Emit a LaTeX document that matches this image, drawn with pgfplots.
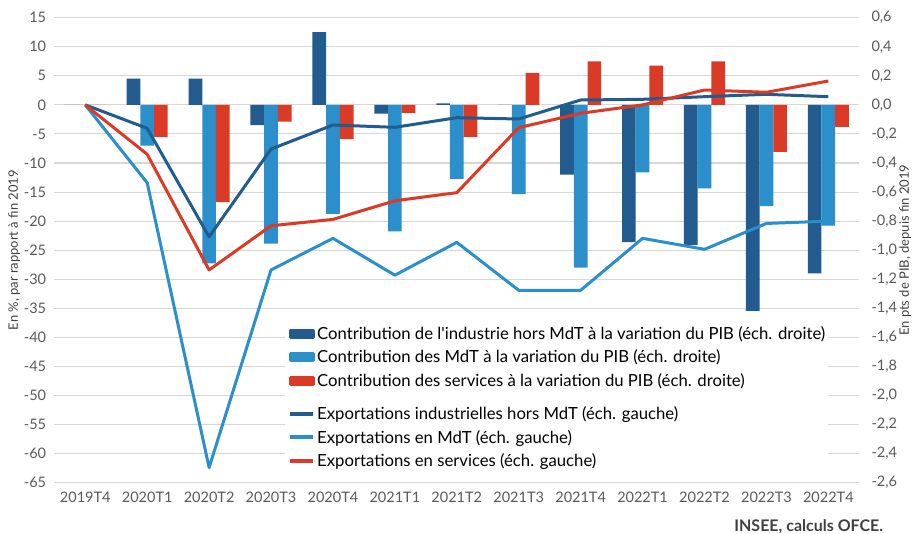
\documentclass[border=0pt]{standalone}
\usepackage{fontspec}
\setmainfont{Lato}
\usepackage{pgfplots}
\pgfplotsset{compat=1.18}
\definecolor{dblue}{HTML}{225B8E}
\definecolor{lblue}{HTML}{2A8FCB}
\definecolor{sred}{HTML}{DA3A26}
\definecolor{gridc}{HTML}{D9D6D3}
\definecolor{tickc}{HTML}{595959}
\definecolor{labc}{HTML}{404040}
\begin{document}
\begin{tikzpicture}
\useasboundingbox (-54.3pt,-51.3pt) rectangle (858.7pt,482.7pt);
% ---------- bars (right axis) ----------
\begin{axis}[
  scale only axis, width=805pt, height=465pt,
  xmin=-0.5, xmax=12.5, ymin=-2.6, ymax=0.6,
  axis y line*=right, axis x line*=bottom,
  axis line style={draw=none},
  xtick=\empty,
  ytick={-2.6,-2.4,-2.2,-2.0,-1.8,-1.6,-1.4,-1.2,-1.0,-0.8,-0.6,-0.4,-0.2,0,0.2,0.4,0.6},
  ymajorgrids, grid style={draw=gridc, line width=1.1pt},
  major tick length=0pt,
  yticklabel style={font=\fontsize{14.5}{16}\selectfont, text=tickc, inner sep=0pt, anchor=west, xshift=12pt},
  /pgf/number format/.cd, use comma, fixed, fixed zerofill, precision=1, assume math mode=true,
  /pgfplots/.cd,
  ylabel={En pts de PIB, depuis fin 2019},
  ylabel style={font=\fontsize{13}{15}\selectfont, text=labc, at={(rel axis cs:1,0.5)}, anchor=center, yshift=-46pt},
  ybar=0pt, bar width=13.7pt,
  every axis plot/.append style={draw=none},
]
\addplot[fill=dblue] coordinates {(0,0) (1,0.18) (2,0.18) (3,-0.14) (4,0.50) (5,-0.06) (6,0.01) (7,0) (8,-0.48) (9,-0.945) (10,-0.965) (11,-1.418) (12,-1.159)};
\addplot[fill=lblue] coordinates {(0,0) (1,-0.28) (2,-1.09) (3,-0.955) (4,-0.75) (5,-0.87) (6,-0.51) (7,-0.615) (8,-1.12) (9,-0.464) (10,-0.574) (11,-0.696) (12,-0.831)};
\addplot[fill=sred] coordinates {(0,0) (1,-0.22) (2,-0.67) (3,-0.115) (4,-0.235) (5,-0.055) (6,-0.22) (7,0.22) (8,0.30) (9,0.27) (10,0.30) (11,-0.324) (12,-0.152)};
\end{axis}
% ---------- lines (left axis) ----------
\begin{axis}[
  scale only axis, width=805pt, height=465pt,
  xmin=-0.5, xmax=12.5, ymin=-65, ymax=15,
  axis y line*=left, axis x line*=bottom,
  axis line style={draw=none},
  xtick={0,...,12},
  xticklabels={2019T4,2020T1,2020T2,2020T3,2020T4,2021T1,2021T2,2021T3,2021T4,2022T1,2022T2,2022T3,2022T4},
  ytick={-65,-60,...,15},
  major tick length=0pt,
  xticklabel style={font=\fontsize{14.5}{16}\selectfont, text=tickc, inner sep=0pt, anchor=north, yshift=-9pt},
  yticklabel style={font=\fontsize{14.5}{16}\selectfont, text=tickc, inner sep=0pt, anchor=east, xshift=-8pt},
  /pgf/number format/assume math mode=true,
  ylabel={En \%, par rapport à fin 2019},
  ylabel style={font=\fontsize{13}{15}\selectfont, text=labc, at={(rel axis cs:0,0.5)}, anchor=center, yshift=40pt},
  every axis plot/.append style={line width=3pt, line join=round, mark=none},
  legend style={at={(rel axis cs:0.2866,0.343)}, anchor=north west, draw=none, fill=white,
    font=\fontsize{16.7}{18}\selectfont, inner xsep=3pt, inner ysep=3pt, row sep=9pt,
    nodes={inner sep=0pt}},
  legend cell align=left,
]
\addlegendimage{legend image code/.code={\fill[dblue] (0pt,-3.5pt) rectangle (23pt,3.5pt);}}
\addlegendentry{\hspace{2pt}Contribution de l\textquotesingle industrie hors MdT à la variation du PIB (éch. droite)}
\addlegendimage{legend image code/.code={\fill[lblue] (0pt,-3.5pt) rectangle (23pt,3.5pt);}}
\addlegendentry{\hspace{2pt}Contribution des MdT à la variation du PIB (éch. droite)}
\addlegendimage{legend image code/.code={\fill[sred] (0pt,-3.5pt) rectangle (23pt,3.5pt);}}
\addlegendentry{\hspace{2pt}Contribution des services à la variation du PIB (éch. droite)}
\addlegendimage{empty legend}
\addlegendentry[text height=0pt, text depth=0pt]{}
\addplot[dblue, legend image code/.code={\draw[line width=4pt] (0pt,0pt) -- (23pt,0pt);}] coordinates {(0,0) (1,-4.03) (2,-22.7) (3,-7.6) (4,-3.46) (5,-3.86) (6,-2.2) (7,-2.43) (8,0.84) (9,0.96) (10,1.41) (11,1.82) (12,1.41)};
\addlegendentry{\hspace{2pt}Exportations industrielles hors MdT (éch. gauche)}
\addplot[lblue, legend image code/.code={\draw[line width=4pt] (0pt,0pt) -- (23pt,0pt);}] coordinates {(0,0) (1,-13.4) (2,-62.4) (3,-28.4) (4,-22.96) (5,-29.3) (6,-23.65) (7,-31.9) (8,-31.9) (9,-22.96) (10,-24.85) (11,-20.4) (12,-20.0)};
\addlegendentry{\hspace{2pt}Exportations en MdT (éch. gauche)}
\addplot[sred, legend image code/.code={\draw[line width=4pt] (0pt,0pt) -- (23pt,0pt);}] coordinates {(0,0) (1,-8.5) (2,-28.4) (3,-20.8) (4,-19.7) (5,-16.5) (6,-15.1) (7,-3.92) (8,-1.45) (9,0.0) (10,2.56) (11,2.17) (12,4.11)};
\addlegendentry{\hspace{2pt}Exportations en services (éch. gauche)}
\end{axis}
\node[anchor=east, font=\bfseries\fontsize{16}{18}\selectfont, text=labc] at (832.4pt,-44pt) {INSEE, calculs OFCE.};
\end{tikzpicture}
\end{document}
